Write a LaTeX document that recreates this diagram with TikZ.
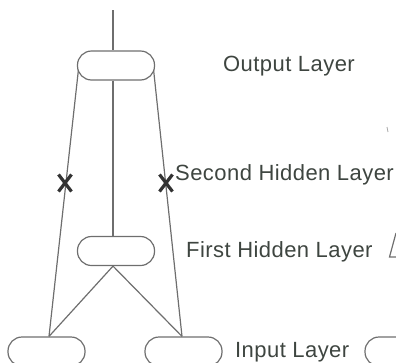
\documentclass[tikz,border=0pt]{standalone}
\usepackage{fontspec}
\setmainfont{Liberation Sans}[LetterSpace=2]
\definecolor{linegray}{HTML}{6E6E6E}
\definecolor{textgray}{HTML}{3E4540}
\tikzset{
  unit/.style={draw=linegray, line width=1.2pt, rounded corners=14pt,
    minimum width=77pt, minimum height=29pt, inner sep=0pt},
  link/.style={draw=linegray, line width=1.2pt},
  cut/.style={draw=black!80, line width=3.2pt},
  layername/.style={anchor=base west, inner sep=0pt, text=textgray,
    font=\fontsize{22}{24}\selectfont}
}
\begin{document}
\begin{tikzpicture}[x=1pt, y=-1pt]
\useasboundingbox (0,0) rectangle (396,362);
\clip (0,0) rectangle (396,362);

% units
\node[unit] (out) at (116,65.5) {};
\node[unit] (hid) at (116,251) {};
\node[unit] (inL) at (46.5,351.5) {};
\node[unit] (inR) at (183.5,351.5) {};
\node[unit] (inX) at (403.5,351.5) {};
\coordinate (top) at (113,10);

% connections
\draw[link] (top) -- ([xshift=-3pt]out.north);
\draw[link] ([xshift=-3pt]out.south) -- ([xshift=-3pt]hid.north);
\path (out.west) ++(1.5,4.5) coordinate (outL);
\path (out.east) ++(-1.5,4.5) coordinate (outR);
\draw[link] (outL) -- ([xshift=2.5pt]inL.north);
\draw[link] (outR) -- ([xshift=-1.5pt]inR.north);
\draw[link] ([xshift=-3pt]hid.south) -- ([xshift=2.5pt]inL.north);
\draw[link] ([xshift=-3pt]hid.south) -- ([xshift=-1.5pt]inR.north);

% removed connections
\foreach \cx in {65,166}{
  \draw[cut] (\cx-6.5,174.5) -- (\cx+6.5,191.5);
  \draw[cut] (\cx+6.5,174.5) -- (\cx-6.5,191.5);
}

% layer names
\node[layername] (lo) at (223,71) {Output Layer};
\node[layername] (l2) at (175,180) {Second Hidden Layer};
\node[layername] (l1) at (186,257) {First Hidden Layer};
\node[layername] (li) at (235,357) {Input Layer};

% neighbouring figure at the right edge
\draw[link] (396,233) -- (389.5,257) -- (396,257);
\draw[linegray!60, line width=0.8pt] (387,127) -- (388,132);
\end{tikzpicture}
\end{document}
